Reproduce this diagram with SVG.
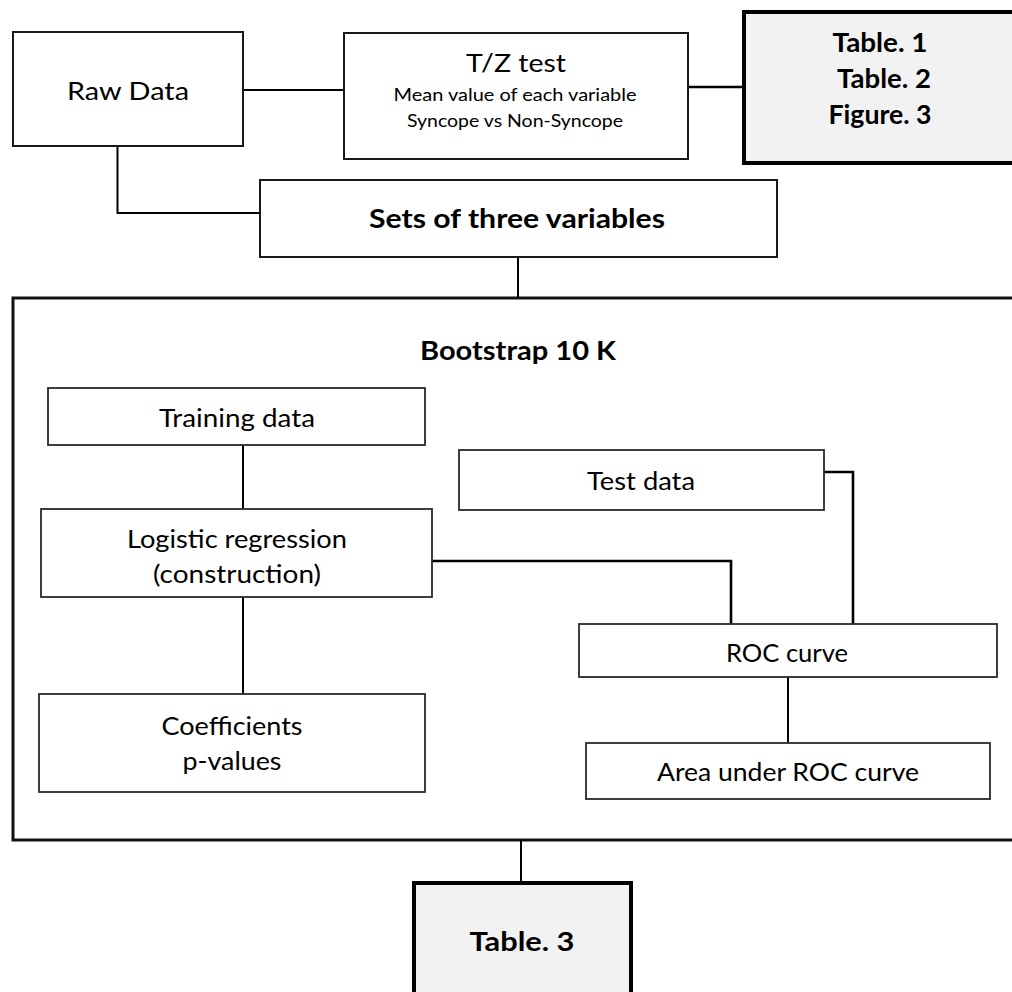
<svg xmlns="http://www.w3.org/2000/svg" width="1012" height="992" viewBox="0 0 1012 992">
<style>
.box{fill:#fff;stroke:#1a1a1a;stroke-width:2}
.inner{fill:#fff;stroke:#2a2a2a;stroke-width:1.8}
.out{fill:#f2f2f2;stroke:#000;stroke-width:4}
.frame{fill:#fff;stroke:#111;stroke-width:3}
.t{font-family:Lato,"Liberation Sans",sans-serif;font-size:25px;fill:#000;text-anchor:middle}
.s{font-family:Lato,"Liberation Sans",sans-serif;font-size:16.5px;fill:#000;text-anchor:middle}
.b{font-family:Lato,"Liberation Sans",sans-serif;font-size:26px;font-weight:bold;fill:#000;text-anchor:middle}
.c{fill:none;stroke:#000;stroke-width:2}
.c3{fill:none;stroke:#000;stroke-width:2.6}
</style>
<rect width="1012" height="992" fill="#fff"/>
<g id="bootstrap">
<rect class="frame" x="13" y="298" width="1010" height="542"/>
<text class="b" x="518" y="360" textLength="196" lengthAdjust="spacingAndGlyphs">Bootstrap 10 K</text>
</g>
<g id="connectors">
<path class="c" d="M243 90H344"/>
<path class="c3" d="M688 87H744"/>
<path class="c" d="M117.5 146V213H260"/>
<path class="c" d="M518 257V298"/>
<path class="c" d="M243 445V509"/>
<path class="c" d="M243 597V694"/>
<path class="c3" d="M432 561H731V624"/>
<path class="c3" d="M824 472H853V624"/>
<path class="c" d="M788 677V743"/>
<path class="c" d="M521 840V883"/>
</g>
<g id="raw-data">
<rect class="box" x="13" y="32" width="230" height="114"/>
<text class="t" x="128" y="100" textLength="122" lengthAdjust="spacingAndGlyphs">Raw Data</text>
</g>
<g id="tz-test">
<rect class="box" x="344" y="33" width="344" height="126"/>
<text class="t" x="516" y="72" textLength="100" lengthAdjust="spacingAndGlyphs">T/Z test</text>
<text class="s" x="515" y="101" textLength="243" lengthAdjust="spacingAndGlyphs">Mean value of each variable</text>
<text class="s" x="515" y="127" textLength="216" lengthAdjust="spacingAndGlyphs">Syncope vs Non-Syncope</text>
</g>
<g id="tables-1-2-fig-3">
<rect class="out" x="744" y="12" width="290" height="151"/>
<text class="b" x="880" y="52" textLength="95" lengthAdjust="spacingAndGlyphs">Table. 1</text>
<text class="b" x="884" y="88" textLength="94" lengthAdjust="spacingAndGlyphs">Table. 2</text>
<text class="b" x="880" y="124" textLength="103" lengthAdjust="spacingAndGlyphs">Figure. 3</text>
</g>
<g id="sets">
<rect class="box" x="260" y="180" width="517" height="77"/>
<text class="b" x="517" y="228" font-size="28" textLength="296" lengthAdjust="spacingAndGlyphs">Sets of three variables</text>
</g>
<g id="training-data">
<rect class="inner" x="48" y="388" width="377" height="57"/>
<text class="t" x="237" y="427" textLength="156" lengthAdjust="spacingAndGlyphs">Training data</text>
</g>
<g id="test-data">
<rect class="inner" x="459" y="450" width="365" height="60"/>
<text class="t" x="641" y="490" textLength="108" lengthAdjust="spacingAndGlyphs">Test data</text>
</g>
<g id="logistic-regression">
<rect class="inner" x="41" y="509" width="391" height="88"/>
<text class="t" x="237" y="548" textLength="220" lengthAdjust="spacingAndGlyphs">Logistic regression</text>
<text class="t" x="237" y="583" textLength="168" lengthAdjust="spacingAndGlyphs">(construction)</text>
</g>
<g id="roc-curve">
<rect class="inner" x="579" y="624" width="418" height="53"/>
<text class="t" x="787" y="662" textLength="122" lengthAdjust="spacingAndGlyphs">ROC curve</text>
</g>
<g id="coefficients">
<rect class="inner" x="39" y="694" width="386" height="98"/>
<text class="t" x="232" y="735" textLength="141" lengthAdjust="spacingAndGlyphs">Coefficients</text>
<text class="t" x="232" y="770" textLength="99" lengthAdjust="spacingAndGlyphs">p-values</text>
</g>
<g id="auc">
<rect class="inner" x="586" y="743" width="404" height="56"/>
<text class="t" x="788" y="781" textLength="262" lengthAdjust="spacingAndGlyphs">Area under ROC curve</text>
</g>
<g id="table-3">
<rect class="out" x="414" y="883" width="217" height="130"/>
<text class="b" x="522" y="951" textLength="105" lengthAdjust="spacingAndGlyphs">Table. 3</text>
</g>
</svg>
